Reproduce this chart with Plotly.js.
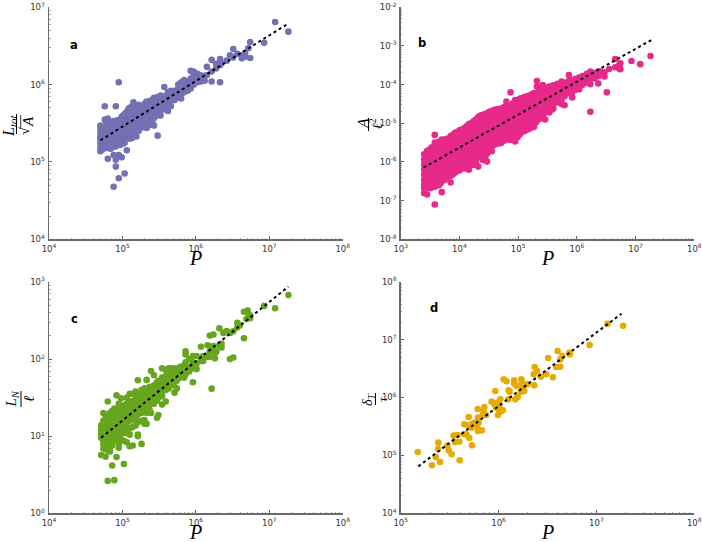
<!DOCTYPE html>
<html><head><meta charset="utf-8">
<script src="https://cdn.plot.ly/plotly-3.0.1.min.js"></script>
<style>html,body{margin:0;padding:0;background:#fff}</style>
</head><body><div id="chart" style="width:702px;height:542px"></div>
<script>
// all values are log10 of the quantity: [log P, [log Y ...]]
const aCols=[
[4.70,[5.14,5.18,5.24,5.29,5.33,5.38,5.43,5.47]],[4.72,[5.21,5.26,5.35,5.40]],[4.73,[5.16,5.22,5.27,5.31,5.36,5.41,5.45]],
[4.76,[5.19,5.25,5.30,5.34,5.39,5.44,5.55,5.72]],[4.78,[5.21,5.27,5.36,5.46,5.52]],[4.80,[5.04,5.18,5.23,5.28,5.33,5.38,5.42,5.47,5.56]],
[4.82,[5.2,5.26,5.32,5.37,5.43,5.49]],[4.84,[5.17,5.24,5.30,5.35,5.40,5.45,5.50]],[4.86,[5.19,5.25,5.31,5.37,5.43,5.48]],
[4.88,[4.68,5.09,5.22,5.27,5.33,5.38,5.43,5.48,5.53]],[4.90,[5.24,5.3,5.35,5.4,5.45,5.5]],
[4.91,[4.94,5.03,5.20,5.26,5.32,5.37,5.42,5.47,5.51,5.72]],[4.93,[5.23,5.28,5.34,5.39,5.44,5.5,5.54]],[4.95,[4.79,5.09,5.24,5.29,5.35,5.40,5.45,5.50,6.03]],
[4.97,[5.22,5.28,5.33,5.38,5.44,5.5,5.55]],[4.99,[5.06,5.26,5.31,5.37,5.43,5.48,5.53,5.58]],[5.01,[5.24,5.29,5.34,5.4,5.45,5.5,5.55,5.6]],[5.03,[4.85,5.25,5.30,5.36,5.41,5.46,5.52,5.57,5.62]],
[5.06,[5.15,5.32,5.37,5.42,5.47,5.53,5.59,5.65]],[5.08,[5.33,5.39,5.44,5.5,5.56,5.62,5.68]],[5.10,[5.30,5.36,5.42,5.48,5.54,5.60,5.66,5.70]],
[5.13,[5.31,5.37,5.43,5.49,5.55,5.6,5.66,5.72]],[5.15,[5.33,5.39,5.45,5.51,5.56,5.62,5.68,5.77]],[5.17,[5.36,5.42,5.48,5.54,5.6,5.66,5.72]],[5.19,[5.33,5.42,5.47,5.52,5.58,5.64,5.70]],
[5.22,[5.4,5.46,5.52,5.58,5.64,5.7,5.74]],[5.24,[5.44,5.50,5.55,5.60,5.66,5.72]],[5.28,[5.45,5.50,5.56,5.62,5.68,5.73]],[5.31,[5.47,5.53,5.59,5.65,5.71,5.76]],
[5.33,[5.44,5.53,5.58,5.64,5.70,5.78]],[5.38,[5.48,5.55,5.61,5.67,5.73,5.79]],[5.41,[5.5,5.56,5.62,5.68,5.74,5.8]],
[5.43,[5.47,5.57,5.63,5.69,5.75,5.83]],[5.48,[5.34,5.60,5.65,5.71,5.77,5.84]],
[5.52,[5.60,5.67,5.73,5.79,5.86]],[5.57,[5.68,5.74,5.80,5.85,5.97]],
[5.62,[5.66,5.72,5.78,5.84,5.90]],[5.66,[5.72,5.79,5.85,5.92]],[5.71,[5.80,5.86,5.92]],
[5.76,[5.83,5.89,5.95,6.00]],[5.80,[5.82,5.88,5.93,6.03]],[5.84,[5.90,5.96,6.03,6.06]],
[5.89,[5.92,5.98,6.04]],[5.93,[5.95,6.02,6.08,6.18]],[5.97,[6.00,6.06,6.12,6.17]],
[6.02,[6.03,6.10,6.14]],[6.07,[6.04,6.09,6.12]],[6.12,[6.05,6.11]],[6.15,[6.125,6.23]],
[6.215,[6.04,6.17,6.32]],[6.275,[6.21,6.27]],[6.33,[6.03,6.25,6.33]],[6.35,[6.28]],[6.42,[6.31]],
[6.465,[6.38]],[6.51,[6.35,6.46]],[6.565,[6.40]],[6.625,[6.34,6.38]],[6.67,[6.405,6.36]],
[6.715,[6.47]],[6.74,[6.345,6.55]],[6.93,[6.54]],[7.08,[6.81]],[7.26,[6.685]]];

const bCols=[
[3.40,[-5.80,-5.94,-6.07,-6.2,-6.33,-6.46,-6.58,-6.68,-6.81]],[3.42,[-5.86,-6.0,-6.13,-6.26,-6.39,-6.52,-6.64]],[3.45,[-5.72,-5.85,-5.98,-6.11,-6.24,-6.37,-6.5,-6.62,-6.84]],
[3.49,[-5.68,-5.8,-5.92,-6.05,-6.18,-6.31,-6.44,-6.57,-6.68]],[3.53,[-5.62,-5.75,-5.88,-6.01,-6.14,-6.27,-6.4,-6.53,-6.66]],[3.55,[-5.68,-5.82,-5.95,-6.08,-6.21,-6.34,-6.47,-6.6]],[3.58,[-5.30,-5.50,-5.63,-5.76,-5.89,-6.02,-6.15,-6.28,-6.41,-6.54,-6.64,-7.10]],
[3.61,[-5.55,-5.69,-5.82,-5.95,-6.08,-6.21,-6.34,-6.47,-6.6]],[3.65,[-5.48,-5.6,-5.73,-5.86,-5.99,-6.12,-6.25,-6.38,-6.51,-6.6]],[3.68,[-5.5,-5.66,-5.79,-5.92,-6.05,-6.18,-6.31,-6.44,-6.55]],[3.70,[-5.42,-5.55,-5.68,-5.81,-5.94,-6.07,-6.2,-6.33,-6.46,-6.78]],
[3.74,[-5.46,-5.59,-5.72,-5.85,-5.98,-6.11,-6.24,-6.37,-6.47]],[3.78,[-5.40,-5.52,-5.65,-5.78,-5.91,-6.04,-6.17,-6.30,-6.42]],[3.81,[-5.46,-5.58,-5.71,-5.84,-5.97,-6.1,-6.23,-6.36]],[3.85,[-5.33,-5.46,-5.59,-5.72,-5.85,-5.98,-6.11,-6.24,-6.36,-6.53]],
[3.89,[-5.3,-5.43,-5.56,-5.69,-5.82,-5.95,-6.08,-6.2,-6.32]],[3.93,[-5.24,-5.37,-5.5,-5.63,-5.76,-5.89,-6.02,-6.15,-6.27]],[3.96,[-5.3,-5.44,-5.57,-5.7,-5.83,-5.96,-6.09,-6.21]],[4.00,[-5.18,-5.31,-5.44,-5.57,-5.7,-5.83,-5.96,-6.09,-6.22]],
[4.04,[-5.16,-5.25,-5.38,-5.51,-5.64,-5.77,-5.9,-6.03,-6.16]],[4.08,[-5.13,-5.26,-5.39,-5.52,-5.65,-5.78,-5.91,-6.04,-6.17]],[4.12,[-5.08,-5.21,-5.34,-5.47,-5.6,-5.73,-5.86,-5.99,-6.12]],[4.16,[-5.02,-5.15,-5.28,-5.41,-5.54,-5.67,-5.8,-5.93,-6.06,-6.2]],
[4.20,[-5.0,-5.12,-5.25,-5.38,-5.51,-5.64,-5.77,-5.9,-6.03]],[4.24,[-4.95,-5.08,-5.21,-5.34,-5.47,-5.6,-5.73,-5.86,-5.99,-6.08]],[4.28,[-4.9,-5.02,-5.15,-5.28,-5.41,-5.54,-5.67,-5.8,-5.93,-6.03]],[4.32,[-4.84,-4.97,-5.1,-5.23,-5.36,-5.49,-5.62,-5.75,-5.88,-6.12]],
[4.36,[-4.8,-4.92,-5.05,-5.18,-5.31,-5.44,-5.57,-5.7,-5.83]],[4.40,[-4.78,-4.91,-5.04,-5.17,-5.3,-5.43,-5.56,-5.69,-5.82,-5.95]],[4.44,[-4.76,-4.87,-5.0,-5.12,-5.25,-5.38,-5.5,-5.63,-5.76,-5.88]],[4.47,[-4.74,-4.87,-5.0,-5.13,-5.26,-5.39,-5.52,-5.65,-5.78,-5.99]],
[4.51,[-4.7,-4.83,-4.96,-5.09,-5.22,-5.35,-5.48,-5.61,-5.72]],[4.55,[-4.68,-4.81,-4.94,-5.07,-5.2,-5.33,-5.46,-5.59,-5.72]],[4.59,[-4.66,-4.79,-4.92,-5.05,-5.18,-5.31,-5.44,-5.56]],[4.63,[-4.64,-4.77,-4.9,-5.03,-5.16,-5.29,-5.42,-5.53]],
[4.67,[-4.63,-4.76,-4.89,-5.02,-5.15,-5.28,-5.41,-5.52]],[4.71,[-4.62,-4.75,-4.88,-5.01,-5.14,-5.27,-5.4,-5.51]],[4.76,[-4.58,-4.7,-4.83,-4.96,-5.09,-5.22,-5.35,-5.45]],[4.80,[-4.44,-4.6,-4.72,-4.85,-4.98,-5.11,-5.24,-5.37]],
[4.84,[-4.55,-4.66,-4.79,-4.92,-5.05,-5.18,-5.31,-5.42]],[4.87,[-4.56,-4.68,-4.8,-4.93,-5.06,-5.19,-5.32,-5.43,-4.2]],[4.91,[-4.48,-4.6,-4.73,-4.86,-4.99,-5.12,-5.25,-5.38]],[4.95,[-4.4,-4.52,-4.65,-4.78,-4.91,-5.04,-5.17,-5.3,-5.47]],
[4.99,[-4.4,-4.5,-4.63,-4.76,-4.89,-5.02,-5.15,-5.28,-5.36]],[5.03,[-4.36,-4.48,-4.6,-4.73,-4.86,-4.99,-5.12,-5.25,-5.28]],[5.07,[-4.35,-4.46,-4.58,-4.71,-4.84,-4.97,-5.1,-5.22]],[5.11,[-4.32,-4.44,-4.57,-4.7,-4.83,-4.96,-5.09,-5.2]],
[5.15,[-4.3,-4.42,-4.55,-4.68,-4.81,-4.94,-5.07,-5.17]],[5.19,[-4.28,-4.4,-4.53,-4.66,-4.79,-4.92,-5.05,-5.14]],[5.23,[-4.25,-4.38,-4.5,-4.63,-4.76,-4.89,-5.02,-5.11]],[5.27,[-4.22,-4.35,-4.48,-4.61,-4.74,-4.87,-5.0,-5.09]],
[5.30,[-4.22,-4.34,-4.46,-4.59,-4.72,-4.85,-4.97]],[5.32,[-3.905,-4.05,-4.3,-4.42,-4.55,-4.68,-4.81,-4.94]],[5.37,[-4.15,-4.27,-4.4,-4.53,-4.66,-4.79,-4.88]],[5.42,[-4.01,-4.12,-4.25,-4.38,-4.51,-4.64,-4.83]],
[5.46,[-4.1,-4.2,-4.33,-4.46,-4.59,-4.72,-4.9]],[5.50,[-4.08,-4.18,-4.3,-4.43,-4.56,-4.69]],[5.53,[-4.05,-4.15,-4.28,-4.41,-4.54,-4.67,-4.72]],[5.57,[-4.04,-4.14,-4.26,-4.39,-4.52,-4.65]],
[5.60,[-4.02,-4.12,-4.24,-4.37,-4.5,-4.62]],[5.67,[-3.98,-4.1,-4.22,-4.35,-4.46]],
[5.74,[-3.92,-4.01,-4.13,-4.25,-4.38,-4.5]],[5.79,[-3.95,-4.06,-4.18,-4.3,-4.53]],
[5.865,[-3.75,-3.9,-3.98,-4.1,-4.22]],[5.92,[-3.88,-3.98,-4.08,-4.2,-4.33]],
[5.98,[-3.85,-3.94,-4.03,-4.13]],[6.04,[-3.82,-3.9,-3.99,-4.12]],[6.1,[-3.78,-3.88,-4.0]],
[6.17,[-3.72,-3.82,-3.95]],[6.23,[-3.66,-3.75,-3.85,-3.99,-4.7]],[6.30,[-3.70,-3.84]],
[6.365,[-3.66,-3.78,-3.97]],[6.41,[-3.66]],[6.47,[-3.68,-3.79]],[6.51,[-4.2]],[6.55,[-3.595]],
[6.654,[-3.34,-3.55]],[6.72,[-3.58,-3.5]],[6.74,[-3.45,-3.6]],[6.93,[-3.39]],[7.08,[-3.47]],[7.255,[-3.26]]];

const cCols=[
[4.71,[0.757,0.98,1.03,1.08,1.14]],[4.74,[0.84,0.90,0.95,1.0,1.05,1.1,1.15,1.2,1.3]],
[4.77,[0.735,0.83,0.88,0.94,0.99,1.04,1.09,1.14,1.19,1.27]],[4.80,[0.42,0.82,0.87,0.93,0.98,1.03,1.08,1.13,1.18,1.23,1.28,1.45]],
[4.83,[0.80,0.86,0.92,1.0,1.06,1.12,1.17,1.22,1.3]],[4.86,[0.62,0.88,0.96,1.02,1.08,1.14,1.2,1.26,1.33]],
[4.89,[0.43,0.94,1.0,1.06,1.12,1.18,1.24,1.3,1.36]],[4.92,[0.73,0.97,1.03,1.09,1.15,1.21,1.27,1.33,1.53]],
[4.95,[0.85,0.90,1.0,1.06,1.12,1.18,1.24,1.3,1.36,1.42]],[4.98,[0.96,1.06,1.12,1.18,1.24,1.3,1.38,1.49]],
[5.02,[0.64,0.94,1.04,1.1,1.16,1.22,1.28,1.34,1.4]],[5.06,[0.92,1.04,1.12,1.18,1.24,1.3,1.36,1.42,1.5]],
[5.10,[0.87,1.02,1.1,1.2,1.26,1.32,1.38,1.44,1.55]],[5.14,[0.88,1.12,1.22,1.28,1.34,1.4,1.46,1.55]],
[5.18,[1.14,1.24,1.3,1.36,1.42,1.48,1.58]],[5.21,[1.02,1.0,1.18,1.28,1.34,1.4,1.46,1.52,1.725]],
[5.26,[0.90,1.2,1.3,1.36,1.42,1.48,1.54,1.6]],[5.30,[1.21,1.16,1.32,1.38,1.44,1.5,1.56,1.62]],
[5.33,[1.16,1.3,1.36,1.42,1.48,1.54,1.6,1.73]],[5.37,[1.34,1.4,1.46,1.52,1.58,1.64]],
[5.39,[1.3,1.44,1.5,1.56,1.62,1.846]],[5.43,[1.42,1.48,1.54,1.6,1.66,1.79]],
[5.47,[1.24,1.46,1.52,1.58,1.64,1.7]],[5.49,[1.275,1.5,1.56,1.62,1.68,1.72]],
[5.54,[1.41,1.52,1.58,1.64,1.7,1.76,1.88]],[5.59,[1.45,1.6,1.66,1.72,1.78,1.86]],
[5.63,[1.62,1.68,1.74,1.8,1.88]],[5.68,[1.66,1.72,1.78,1.84,1.88]],[5.71,[1.565,1.7,1.76,1.82]],
[5.74,[1.62,1.72,1.78,1.84,1.88]],[5.79,[1.76,1.82,1.9]],[5.84,[1.76,1.84,1.92]],
[5.86,[1.8,1.96,2.06,2.1]],[5.91,[1.84,1.9,2.0]],[5.96,[1.70,1.88,1.96,2.04]],
[6.01,[1.87,1.94,2.04]],[6.07,[1.975,2.16]],[6.10,[1.975,2.04]],[6.16,[2.03,2.18]],[6.19,[2.03,2.1,2.305]],
[6.215,[1.617,2.12]],[6.24,[2.17,2.32]],[6.26,[2.01,2.08]],[6.28,[2.1]],[6.32,[2.18,2.40]],[6.35,[2.15,2.2]],
[6.375,[2.34]],[6.42,[2.365]],[6.465,[2.0,2.34]],[6.51,[2.02,2.36]],[6.565,[2.41,2.47]],[6.6,[2.44]],
[6.655,[2.27,2.615]],[6.69,[2.52]],[6.705,[2.63]],[6.72,[2.58]],[6.74,[2.53,2.56]],[6.93,[2.69]],[7.08,[2.66]],[7.26,[2.83]]];

const dP=[5.174,5.32,5.358,5.402,5.385,5.381,5.477,5.49,5.521,5.603,5.701,5.729,5.541,5.582,5.555,5.599,5.65,5.671,5.65,5.695,5.681,5.725,5.787,5.79,5.797,5.78,5.79,5.831,5.752,5.735,5.855,5.848,5.872,5.841,5.93,5.967,5.957,5.991,6.018,5.974,6.008,5.994,6.018,6.045,6.052,6.083,6.008,6.103,6.113,6.10,6.171,6.195,6.161,6.161,6.185,6.233,6.239,6.246,6.263,6.229,6.297,6.365,6.369,6.359,6.393,6.433,6.488,6.508,6.556,6.604,6.59,6.631,6.631,6.651,6.723,6.73,6.931,7.114,7.274];
const dY=[5.059,4.829,4.973,4.886,5.22,5.111,5.168,5.088,5.019,4.915,5.301,5.174,5.341,5.353,5.232,5.237,5.364,5.364,5.537,5.663,5.519,5.479,5.801,5.652,5.565,5.508,5.422,5.433,5.565,5.548,5.836,5.767,5.698,5.709,5.928,6.112,5.882,5.911,5.968,5.824,5.778,5.698,5.755,5.778,6.314,6.279,5.853,6.124,6.101,5.968,5.968,6.009,6.296,6.239,6.199,6.314,6.256,6.17,6.112,6.101,6.227,6.21,6.527,6.40,6.458,6.36,6.406,6.682,6.348,6.803,6.527,6.532,6.659,6.717,6.774,6.745,6.906,7.275,7.24];

// dashed fit lines: [log P ends], [log Y ends]
const fitAP=[4.70,7.26], fitAY=[5.28,6.79];
const fitBP=[3.39,7.27], fitBY=[-6.147,-2.845];
const fitCP=[4.71,7.26], fitCY=[0.98,2.94];
const fitDP=[5.18,7.257], fitDY=[4.81,7.447];

const tickExpAx=[4,5,6,7,8], tickExpBx=[3,4,5,6,7,8], tickExpCx=[4,5,6,7,8], tickExpDx=[5,6,7,8];
const tickExpAy=[4,5,6,7], tickExpBy=[-8,-7,-6,-5,-4,-3,-2], tickExpCy=[0,1,2,3], tickExpDy=[4,5,6,7,8];

const colours=['#7570b3','#e7298a','#66a61e','#e6ab02'];
const W=702,H=542;
const boxes=[[49,342.7,7.3,239.3],[400.7,694.3,7.3,239.3],[49,342.7,282,513.3],[400.7,694.2,281.7,513.3]];
const pow=v=>Math.pow(10,v);
const flatX=c=>c.flatMap(([p,ys])=>ys.map(()=>pow(p)));
const flatY=c=>c.flatMap(([p,ys])=>ys.map(pow));
const sets=[[flatX(aCols),flatY(aCols),fitAP,fitAY],[flatX(bCols),flatY(bCols),fitBP,fitBY],[flatX(cCols),flatY(cCols),fitCP,fitCY],[dP.map(pow),dY.map(pow),fitDP,fitDY]];
const xt=[tickExpAx,tickExpBx,tickExpCx,tickExpDx], yt=[tickExpAy,tickExpBy,tickExpCy,tickExpDy];
const traces=[],layout={width:W,height:H,margin:{l:0,r:0,t:0,b:0},paper_bgcolor:'#fff',plot_bgcolor:'#fff',showlegend:false,annotations:[],shapes:[]};
function axis(exps,dom,anchor){
  return {type:'log',domain:dom,anchor:anchor,range:[exps[0],exps[exps.length-1]],tickmode:'array',tickvals:exps.map(pow),
    ticktext:exps.map(e=>'10<sup>'+e+'</sup>'),ticks:'inside',ticklen:3,tickwidth:1,tickcolor:'#666',
    showgrid:false,zeroline:false,showline:true,linecolor:'#6a6a6a',linewidth:1.5,
    tickfont:{family:'DejaVu Sans',size:8.5,color:'#333'},
    minor:{ticks:'inside',ticklen:1.5,tickwidth:0.7,tickcolor:'#888',showgrid:false,
      tickvals:exps.slice(0,-1).flatMap(e=>[2,3,4,5,6,7,8,9].map(m=>m*pow(e)))}};
}
sets.forEach((s,i)=>{
  const sfx=i?String(i+1):'',b=boxes[i];
  traces.push({type:'scatter',mode:'markers',x:s[0],y:s[1],xaxis:'x'+sfx,yaxis:'y'+sfx,cliponaxis:false,
    marker:{color:colours[i],size:6.6,line:{width:0}},hoverinfo:'skip'});
  traces.push({type:'scatter',mode:'lines',x:s[2].map(pow),y:s[3].map(pow),xaxis:'x'+sfx,yaxis:'y'+sfx,
    line:{color:'#000',width:2,dash:'3px,3px'},hoverinfo:'skip'});
  const xa=axis(xt[i],[b[0]/W,b[1]/W],'y'+sfx), ya=axis(yt[i],[1-b[3]/H,1-b[2]/H],'x'+sfx);
  xa.ticklabelstandoff=1; ya.ticklabelstandoff=1;
  layout['xaxis'+sfx]=xa; layout['yaxis'+sfx]=ya;
  layout.annotations.push({xref:'paper',yref:'paper',x:(b[0]+b[1])/2/W,y:1-(b[3]+17.5)/H,yshift:-1.2,text:'<i>P</i>',showarrow:false,
    xanchor:'center',yanchor:'middle',font:{family:'Liberation Serif',size:20,color:'#000'}});
});
const serif='Liberation Serif';
function note(x,y,text,size,opts){layout.annotations.push(Object.assign({xref:'paper',yref:'paper',x:x/W,y:1-y/H,text:text,showarrow:false,xanchor:'center',yanchor:'middle',font:{family:serif,size:size,color:'#000'}},opts||{}));}
function bar(x,y0,y1,w){layout.shapes.push({type:'line',xref:'paper',yref:'paper',x0:x/W,x1:x/W,y0:1-y0/H,y1:1-y1/H,line:{color:'#000',width:w||1}});}
const rot={textangle:-90};
const letter=()=>({font:{family:'DejaVu Sans',size:11.5,color:'#000',weight:'bold'}});
note(74,45,'<b>a</b>',11.5,letter()); note(422,43,'<b>b</b>',11.5,letter()); note(74,319,'<b>c</b>',11.5,letter()); note(434,308,'<b>d</b>',11.5,letter());
note(10,126,'<i>L<sub>tot</sub></i>',16,rot); bar(16.5,114,134); note(25,131,'√',14,rot); bar(20.7,115,128,0.8); note(27.5,121.5,'<i>A</i>',15,rot);
note(363,124,'<i>A</i>',16,rot); bar(368.5,118,131); note(376,124,'<i>ℓ</i><sup>2</sup>',14,rot);
note(11.5,399,'<i>L<sub>N</sub></i>',15,rot); bar(21,391,407); note(29,399,'<i>ℓ</i>',15,rot);
note(368,399,'<i>δ<sub>T</sub></i>',14,rot); bar(375.5,393,405); note(382,399,'<i>τ</i>',13,rot);
Plotly.newPlot('chart',traces,layout,{staticPlot:true,displayModeBar:false});
</script></body></html>
